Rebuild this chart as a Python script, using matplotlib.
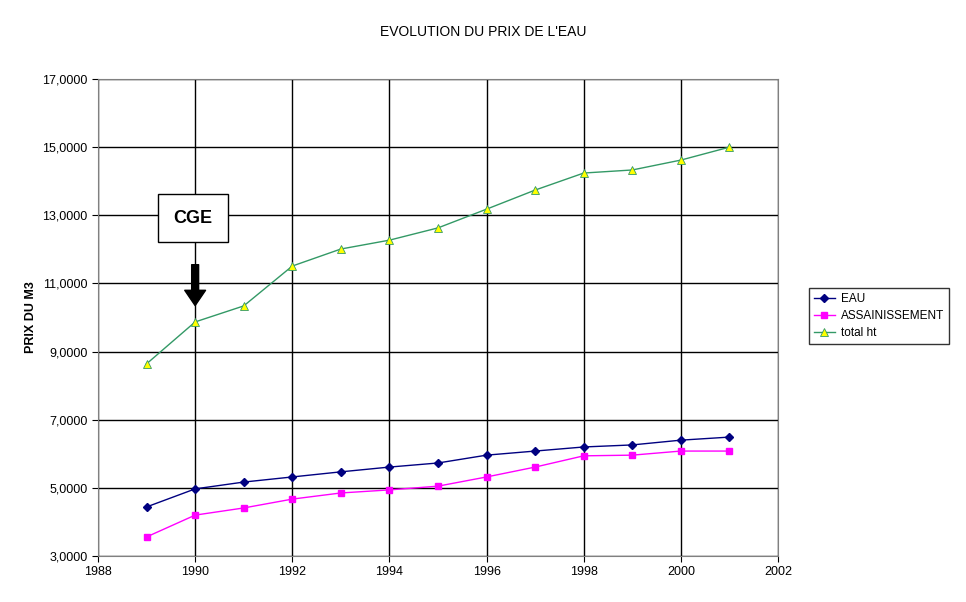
import matplotlib.pyplot as plt
from matplotlib.ticker import FuncFormatter

plt.rcParams['font.family'] = ['Liberation Sans', 'DejaVu Sans']

years = [1989, 1990, 1991, 1992, 1993, 1994, 1995, 1996, 1997, 1998, 1999, 2000, 2001]
eau = [4.44, 4.97, 5.17, 5.32, 5.47, 5.61, 5.73, 5.96, 6.08, 6.20, 6.26, 6.40, 6.49]
assainissement = [3.56, 4.20, 4.41, 4.67, 4.85, 4.94, 5.05, 5.32, 5.61, 5.94, 5.96, 6.08, 6.08]
total_ht = [8.64, 9.87, 10.34, 11.51, 12.01, 12.27, 12.63, 13.18, 13.74, 14.24, 14.33, 14.62, 15.00]

fig = plt.figure(figsize=(9.66, 6.02), dpi=100)
ax = fig.add_axes([98 / 966, 1 - 556 / 602, 680 / 966, 477 / 602])

ax.plot(years, eau, color='#000080', lw=1, marker='D', ms=4, label='EAU')
ax.plot(years, assainissement, color='#ff00ff', lw=1, marker='s', ms=4.5, label='ASSAINISSEMENT')
ax.plot(years, total_ht, color='#339966', lw=1, marker='^', ms=6,
        markerfacecolor='#ffff00', markeredgecolor='#339966', markeredgewidth=0.6, label='total ht')

ax.set_xlim(1988, 2002)
ax.set_ylim(3, 17)
ax.set_xticks(range(1988, 2003, 2))
ax.set_yticks(range(3, 18, 2))
ax.yaxis.set_major_formatter(FuncFormatter(lambda v, p: f"{v:.4f}".replace('.', ',')))
ax.grid(True, color='black', lw=1)
ax.set_axisbelow(True)
for s in ax.spines.values():
    s.set_color('#808080')
ax.tick_params(labelsize=9, direction='out', length=4)
ax.set_ylabel('PRIX DU M3', fontsize=9, fontweight='bold')

fig.text(483 / 966, 1 - 32 / 602, "EVOLUTION DU PRIX DE L'EAU", ha='center', va='center', fontsize=10)

# CGE annotation
ax.annotate('', xy=(1990, 10.35), xytext=(1990, 11.55),
            arrowprops=dict(facecolor='black', edgecolor='black', width=5, headwidth=15, headlength=11))
ax.text(1989.95, 12.92, 'CGE', ha='center', va='center', fontsize=13, fontweight='bold',
        bbox=dict(boxstyle='square,pad=0.85', facecolor='white', edgecolor='black', lw=1))

fig.legend(loc='center left', bbox_to_anchor=(803 / 966, 1 - 316 / 602), fontsize=8.5,
           frameon=True, fancybox=False, edgecolor='black', borderpad=0.4,
           handlelength=1.8, handletextpad=0.5, labelspacing=0.45)

fig.savefig('out.png', dpi=100)
